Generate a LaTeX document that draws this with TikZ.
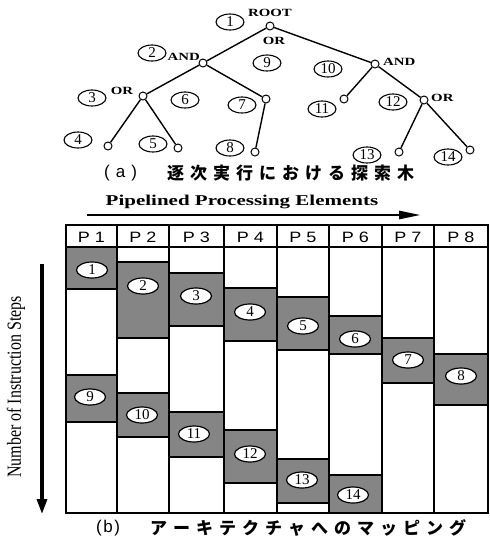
\documentclass[tikz,border=0pt]{standalone}
\usepackage{fontspec}
\usepackage{graphicx}
\setmainfont{Liberation Serif}
\newfontfamily\jpfont{Noto Sans CJK JP}
\newfontfamily\hsfont{Liberation Sans}
\usetikzlibrary{shapes.geometric,arrows.meta}
\def\ls{\kern6pt}
\tikzset{
  tnode/.style={circle,draw,fill=white,minimum size=8pt,inner sep=0pt,line width=1pt},
  tedge/.style={line width=1.4pt},
  num/.style={ellipse,draw,line width=1.1pt,minimum width=28pt,minimum height=16pt,inner sep=0.3pt,font=\fontsize{15}{15}\selectfont},
  lab/.style={font=\bfseries\fontsize{11}{11}\selectfont,inner sep=0pt},
  colbox/.style={draw,line width=1.3pt},
  blk/.style={draw,line width=1.3pt,fill=black!48},
  tnum/.style={ellipse,draw,fill=white,line width=1.2pt,minimum width=31pt,minimum height=16pt,inner sep=0.3pt,font=\fontsize{15}{15}\selectfont},
  head/.style={inner sep=0pt,font=\hsfont\fontsize{15}{15}\selectfont},
  captext/.style={inner sep=0pt,anchor=west},
}
\begin{document}
\begin{tikzpicture}[x=1pt,y=-1pt]
\useasboundingbox (0,0) rectangle (490,539);
% ---------------- tree ----------------
\node[tnode] (root) at (270,26) {};
\node[tnode] (n2) at (203,63) {};
\node[tnode] (nr) at (375,64) {};
\node[tnode] (n3) at (143,96) {};
\node[tnode] (n7) at (266,99) {};
\node[tnode] (l4) at (108,146) {};
\node[tnode] (l5) at (178,148) {};
\node[tnode] (l8) at (255,152) {};
\node[tnode] (l11) at (344,99) {};
\node[tnode] (nor) at (424,100) {};
\node[tnode] (l13) at (399,152) {};
\node[tnode] (l14) at (470,150) {};
\draw[tedge] (root) -- (n2);
\draw[tedge] (root) -- (nr);
\draw[tedge] (n2) -- (n3);
\draw[tedge] (n2) -- (n7);
\draw[tedge] (n3) -- (l4);
\draw[tedge] (n3) -- (l5);
\draw[tedge] (n7) -- (l8);
\draw[tedge] (nr) -- (l11);
\draw[tedge] (nr) -- (nor);
\draw[tedge] (nor) -- (l13);
\draw[tedge] (nor) -- (l14);
\node[lab] (troot) at (270,13) {\scalebox{1.35}[1]{ROOT}};
\node[lab] (tor1) at (274,41) {\scalebox{1.35}[1]{OR}};
\node[lab,anchor=east] (tand1) at (200,57) {\scalebox{1.35}[1]{AND}};
\node[lab] (tor2) at (122,91) {\scalebox{1.35}[1]{OR}};
\node[lab,anchor=west] (tand2) at (383,62) {\scalebox{1.35}[1]{AND}};
\node[lab,anchor=west] (tor3) at (431,98) {\scalebox{1.35}[1]{OR}};
\node[num] (e1) at (230,22) {1};
\node[num] (e2) at (152,53) {2};
\node[num] (e3) at (92,98) {3};
\node[num] (e4) at (78,140) {4};
\node[num] (e5) at (153,144) {5};
\node[num] (e6) at (185,100) {6};
\node[num] (e7) at (242,105) {7};
\node[num] (e8) at (230,148) {8};
\node[num] (e9) at (267,63) {9};
\node[num] (e10) at (328,69) {10};
\node[num] (e11) at (322,109) {11};
\node[num] (e12) at (393,102) {12};
\node[num] (e13) at (367,155) {13};
\node[num] (e14) at (448,157) {14};
% caption (a)
\node[captext,font=\hsfont\fontsize{17}{17}\selectfont] (capa) at (104,173) {(\kern6pt a\kern6pt)};
\node[captext,font=\jpfont\bfseries\fontsize{17}{17}\selectfont] (capajp) at (167,173) {逐\ls 次\ls 実\ls 行\ls に\ls お\ls け\ls る\ls 探\ls 索\ls 木};
% ---------------- arrows ----------------
\node[inner sep=0pt,font=\bfseries\fontsize{15}{15}\selectfont] (pipe) at (242,202) {\scalebox{1.4}[1]{Pipelined Processing Elements}};
\coordinate (ha) at (87,215);
\coordinate (hb) at (421,215);
\draw[line width=2.8pt,-{Triangle[length=22pt,width=8pt]}] (ha) -- (hb);
\coordinate (va) at (42,264);
\coordinate (vb) at (42,514);
\draw[line width=3.2pt,-{Triangle[length=15pt,width=10pt]}] (va) -- (vb);
\node[inner sep=0pt,rotate=90,font=\fontsize{20}{20}\selectfont] (steps) at (16,387) {\scalebox{0.8}[1]{Number of Instruction Steps}};
% ---------------- table ----------------
\foreach \a/\b [count=\i] in {66/117,117/169,169/224,224/277,277/329,329/382,382/434,434/488}{
  \draw[colbox] (\a,225) rectangle (\b,513);
  \draw[colbox] (\a,247) -- (\b,247);
  \node[head] (h\i) at ({(\a+\b)/2},237) {\scalebox{1.2}[1]{P \i}};
}
% blocks
\foreach \a/\b/\t/\u in {66/117/247/289, 66/117/375/422, 117/169/262/338, 117/169/393/437,
  169/224/273/326, 169/224/412/457, 224/277/288/341, 224/277/430/483,
  277/329/297/350, 277/329/459/503, 329/382/316/354, 329/382/475/513,
  382/434/338/383, 434/488/354/405}{
  \draw[blk] (\a,\t) rectangle (\b,\u);
}
\node[tnum] (b1) at (92,270) {1};
\node[tnum] (b2) at (143,286) {2};
\node[tnum] (b3) at (196,296) {3};
\node[tnum] (b4) at (250,312) {4};
\node[tnum] (b5) at (303,326) {5};
\node[tnum] (b6) at (355,339) {6};
\node[tnum] (b7) at (408,360) {7};
\node[tnum] (b8) at (461,376) {8};
\node[tnum] (b9) at (90,397) {9};
\node[tnum] (b10) at (142,415) {10};
\node[tnum] (b11) at (194,434) {11};
\node[tnum] (b12) at (250,454) {12};
\node[tnum] (b13) at (302,480) {13};
\node[tnum] (b14) at (353,495) {14};
% caption (b)
\node[captext,font=\hsfont\fontsize{17}{17}\selectfont] (capb) at (96,528) {(\kern1.5pt b\kern1.5pt)};
\node[captext,font=\jpfont\bfseries\fontsize{17}{17}\selectfont] (capbjp) at (150,528) {ア\ls ー\ls キ\ls テ\ls ク\ls チ\ls ャ\ls へ\ls の\ls マ\ls ッ\ls ピ\ls ン\ls グ};
\end{tikzpicture}
\end{document}
